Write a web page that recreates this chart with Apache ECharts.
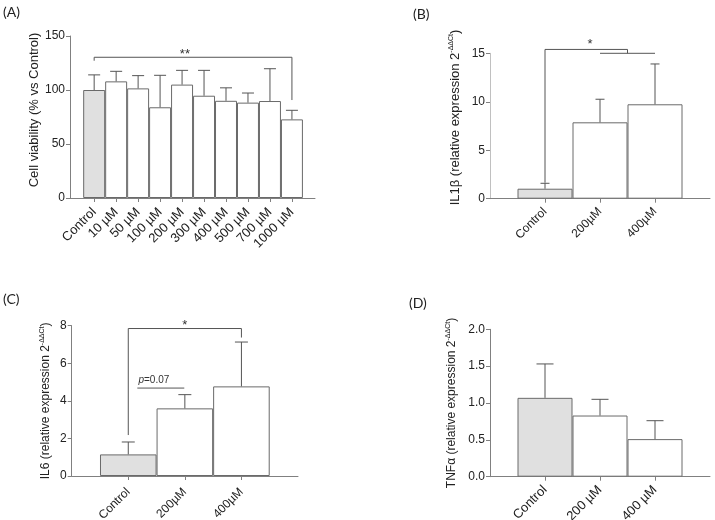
<!DOCTYPE html>
<html><head><meta charset="utf-8">
<script src="https://cdn.jsdelivr.net/npm/echarts@6/dist/echarts.min.js"></script>
<style>html,body{margin:0;padding:0;background:#fff}#c{width:715px;height:520px}</style>
</head><body><div id="c"></div>
<script>
// ---- Data ----
const catsA = ['Control', '10 µM', '50 µM', '100 µM', '200 µM', '300 µM', '400 µM', '500 µM', '700 µM', '1000 µM'];
const meanA = [100, 108, 101.5, 84, 105, 94.7, 90, 88.3, 89.8, 72.8];
const sdA   = [14, 9.3, 11.8, 29.6, 13.2, 23.5, 12, 8.9, 29.9, 8.4];

const catsB = ['Control', '200µM', '400µM'];
const meanB = [1.03, 7.88, 9.74];
const sdB   = [0.56, 2.38, 4.16];

const catsC = ['Control', '200µM', '400µM'];
const meanC = [1.15, 3.6, 4.77];
const sdC   = [0.66, 0.73, 2.36];

const catsD = ['Control', '200 µM', '400 µM'];
const meanD = [1.07, 0.83, 0.51];
const sdD   = [0.46, 0.22, 0.25];

// significance brackets: [xFrom, xTo, yTop, yLeftEnd, yRightEnd] in axis units
const bracketsA = [[0, 9, 130.3, 127.1, 90.7]];
const bracketsB = [[0, 1.5, 15.4, 1.65, 15.0], [1, 2, 15.0, 15.0, 15.0]];
const bracketsC = [[0, 2, 7.85, 2.18, 7.37], [0.16, 0.99, 4.68, 4.68, 4.68]];
const bracketsD = [];
// annotations: [text, x, y]
const notesA = [['**', 4.13, 126.5]];
const notesB = [['*', 0.82, 15.25]];
const notesC = [['*', 1.0, 7.67], ['{i|p}=0.07', 0.18, 4.85]];
const notesD = [];

const yTicksA = [0, 150, 50];
const yTicksB = [0, 15, 5];
const yTicksC = [0, 8, 2];
const yTicksD = [0, 2, 0.5];

// ---- Chart ----
const FONT = '"Liberation Sans", Arial, sans-serif';
const AX = '#808080';
const BAR_EDGE = '#6a6a6a';
const ERR = '#555555';

const option = {
  animation: false,
  backgroundColor: '#fff',
  title: [
    {text: '(A)', left: 3, top: 5},
    {text: '(B)', left: 413, top: 7},
    {text: '(C)', left: 3, top: 292},
    {text: '(D)', left: 409, top: 296}
  ].map(t => Object.assign(t, {padding: 0, textStyle: {fontFamily: 'Lato, "Open Sans", sans-serif', fontSize: 14, fontWeight: 'normal', color: '#222'}})),
  grid: [], xAxis: [], yAxis: [], series: []
};

function supName(main) {
  return '{a|' + main + ' (relative expression 2}{s|-ΔΔCt}{a|)}';
}

function addPanel(idx, p) {
  option.grid.push(Object.assign({containLabel: false, outerBoundsMode: 'none'}, p.grid));
  option.xAxis.push({
    type: 'value', gridIndex: idx, min: p.xmin, max: p.xmax,
    axisLine: {show: true, onZero: false, lineStyle: {color: AX}},
    axisTick: {show: true, length: 4, customValues: p.cats.map((c, i) => i), lineStyle: {color: AX}},
    axisLabel: {customValues: p.cats.map((c, i) => i), formatter: v => p.cats[Math.round(v)] || '',
      rotate: 45, margin: p.xMargin, fontSize: p.xFont, fontFamily: FONT, color: '#222'},
    splitLine: {show: false}
  });
  option.yAxis.push({
    type: 'value', gridIndex: idx, min: p.yt[0], max: p.yt[1], interval: p.yt[2],
    axisLine: {show: true, onZero: false, lineStyle: {color: AX}},
    axisTick: {show: true, length: 4, lineStyle: {color: AX}},
    axisLabel: {fontSize: 12, fontFamily: FONT, color: '#222', margin: 5,
      formatter: p.yfmt || (v => String(v))},
    splitLine: {show: false},
    name: p.name, nameLocation: 'middle', nameGap: p.nameGap,
    nameTextStyle: p.rich ? {
      padding: [0, 0, 0, p.nameShift || 0],
      rich: {
        a: {fontSize: p.nameFont || 12, fontFamily: FONT, color: '#222', lineHeight: 14},
        s: {fontSize: 7, fontFamily: FONT, color: '#222', lineHeight: 14, verticalAlign: 'top', padding: [0, 0, 6, 0]}
      }
    } : {fontSize: 13, fontFamily: FONT, color: '#222', padding: [0, 0, 0, p.nameShift || 0]}
  });
  option.series.push({
    type: 'bar', xAxisIndex: idx, yAxisIndex: idx, barCategoryGap: '0%', silent: true,
    data: p.mean.map((v, i) => ({value: [i, v], itemStyle: {color: i === 0 ? '#e0e0e0' : '#ffffff'}})),
    itemStyle: {borderColor: BAR_EDGE, borderWidth: 1}
  });
  const cw = p.capW;
  option.series.push({
    type: 'custom', xAxisIndex: idx, yAxisIndex: idx, silent: true, z: 3,
    data: p.mean.map((v, i) => [i, v, v + p.sd[i]]),
    encode: {x: 0, y: [1, 2]},
    renderItem: (params, api) => {
      const b = api.coord([api.value(0), api.value(1)]);
      const t = api.coord([api.value(0), api.value(2)]);
      return {type: 'group', children: [
        {type: 'line', shape: {x1: b[0], y1: b[1], x2: t[0], y2: t[1]}, style: {stroke: ERR, lineWidth: 1}},
        {type: 'line', shape: {x1: t[0] - cw / 2, y1: t[1], x2: t[0] + cw / 2, y2: t[1]}, style: {stroke: ERR, lineWidth: 1}}
      ]};
    }
  });
  if (p.brackets.length) option.series.push({
    type: 'custom', xAxisIndex: idx, yAxisIndex: idx, silent: true, z: 4,
    data: p.brackets,
    encode: {x: [0, 1], y: [2, 3, 4]},
    renderItem: (params, api) => {
      const x1 = api.value(0), x2 = api.value(1), y = api.value(2);
      const pts = [api.coord([x1, api.value(3)]), api.coord([x1, y]), api.coord([x2, y]), api.coord([x2, api.value(4)])];
      return {type: 'polyline', shape: {points: pts}, style: {stroke: ERR, fill: null, lineWidth: 1}};
    }
  });
  if (p.notes.length) option.series.push({
    type: 'custom', xAxisIndex: idx, yAxisIndex: idx, silent: true, z: 5,
    data: p.notes.map(n => [n[1], n[2]]),
    encode: {x: 0, y: 1},
    renderItem: (params, api) => {
      const n = p.notes[params.dataIndex];
      const c = api.coord([api.value(0), api.value(1)]);
      const small = n[0].indexOf('p}') >= 0;
      return {type: 'text', style: {
        text: n[0], x: c[0], y: c[1],
        align: small ? 'left' : 'center', verticalAlign: 'bottom',
        fontSize: small ? 10 : 13, fontFamily: FONT, fill: '#333',
        rich: {i: {fontStyle: 'italic', fontSize: 10, fontFamily: FONT, fill: '#333'}}
      }};
    }
  });
}

addPanel(0, {cats: catsA, mean: meanA, sd: sdA, brackets: bracketsA, notes: notesA, yt: yTicksA,
  grid: {left: 70, right: 400, top: 36, bottom: 322}, xmin: -1.1, xmax: 10.05,
  name: 'Cell viability (% vs Control)', nameGap: 28, nameShift: 14, capW: 12, xFont: 13, xMargin: 12});
addPanel(1, {cats: catsB, mean: meanB, sd: sdB, brackets: bracketsB, notes: notesB, yt: yTicksB,
  grid: {left: 490, right: 5, top: 53.3, bottom: 321.3}, xmin: -1, xmax: 3,
  name: supName('IL1β'), rich: true, nameGap: 28, nameShift: 17, nameFont: 13, capW: 9, xFont: 12, xMargin: 11});
addPanel(2, {cats: catsC, mean: meanC, sd: sdC, brackets: bracketsC, notes: notesC, yt: yTicksC,
  grid: {left: 71.7, right: 417, top: 325.7, bottom: 44}, xmin: -1, xmax: 3,
  name: supName('IL6'), rich: true, nameGap: 19, capW: 13, xFont: 12, xMargin: 14});
addPanel(3, {cats: catsD, mean: meanD, sd: sdD, brackets: bracketsD, notes: notesD, yt: yTicksD,
  grid: {left: 490, right: 5, top: 329.3, bottom: 43.3}, xmin: -1, xmax: 3,
  name: supName('TNFα'), rich: true, nameGap: 31, capW: 17, xFont: 13, xMargin: 11, yfmt: v => v.toFixed(1)});
option.yAxis[1].axisLine.lineStyle.color = '#c0c0c0';

const chart = echarts.init(document.getElementById('c'), null, {renderer: 'canvas'});
chart.setOption(option);
</script></body></html>
